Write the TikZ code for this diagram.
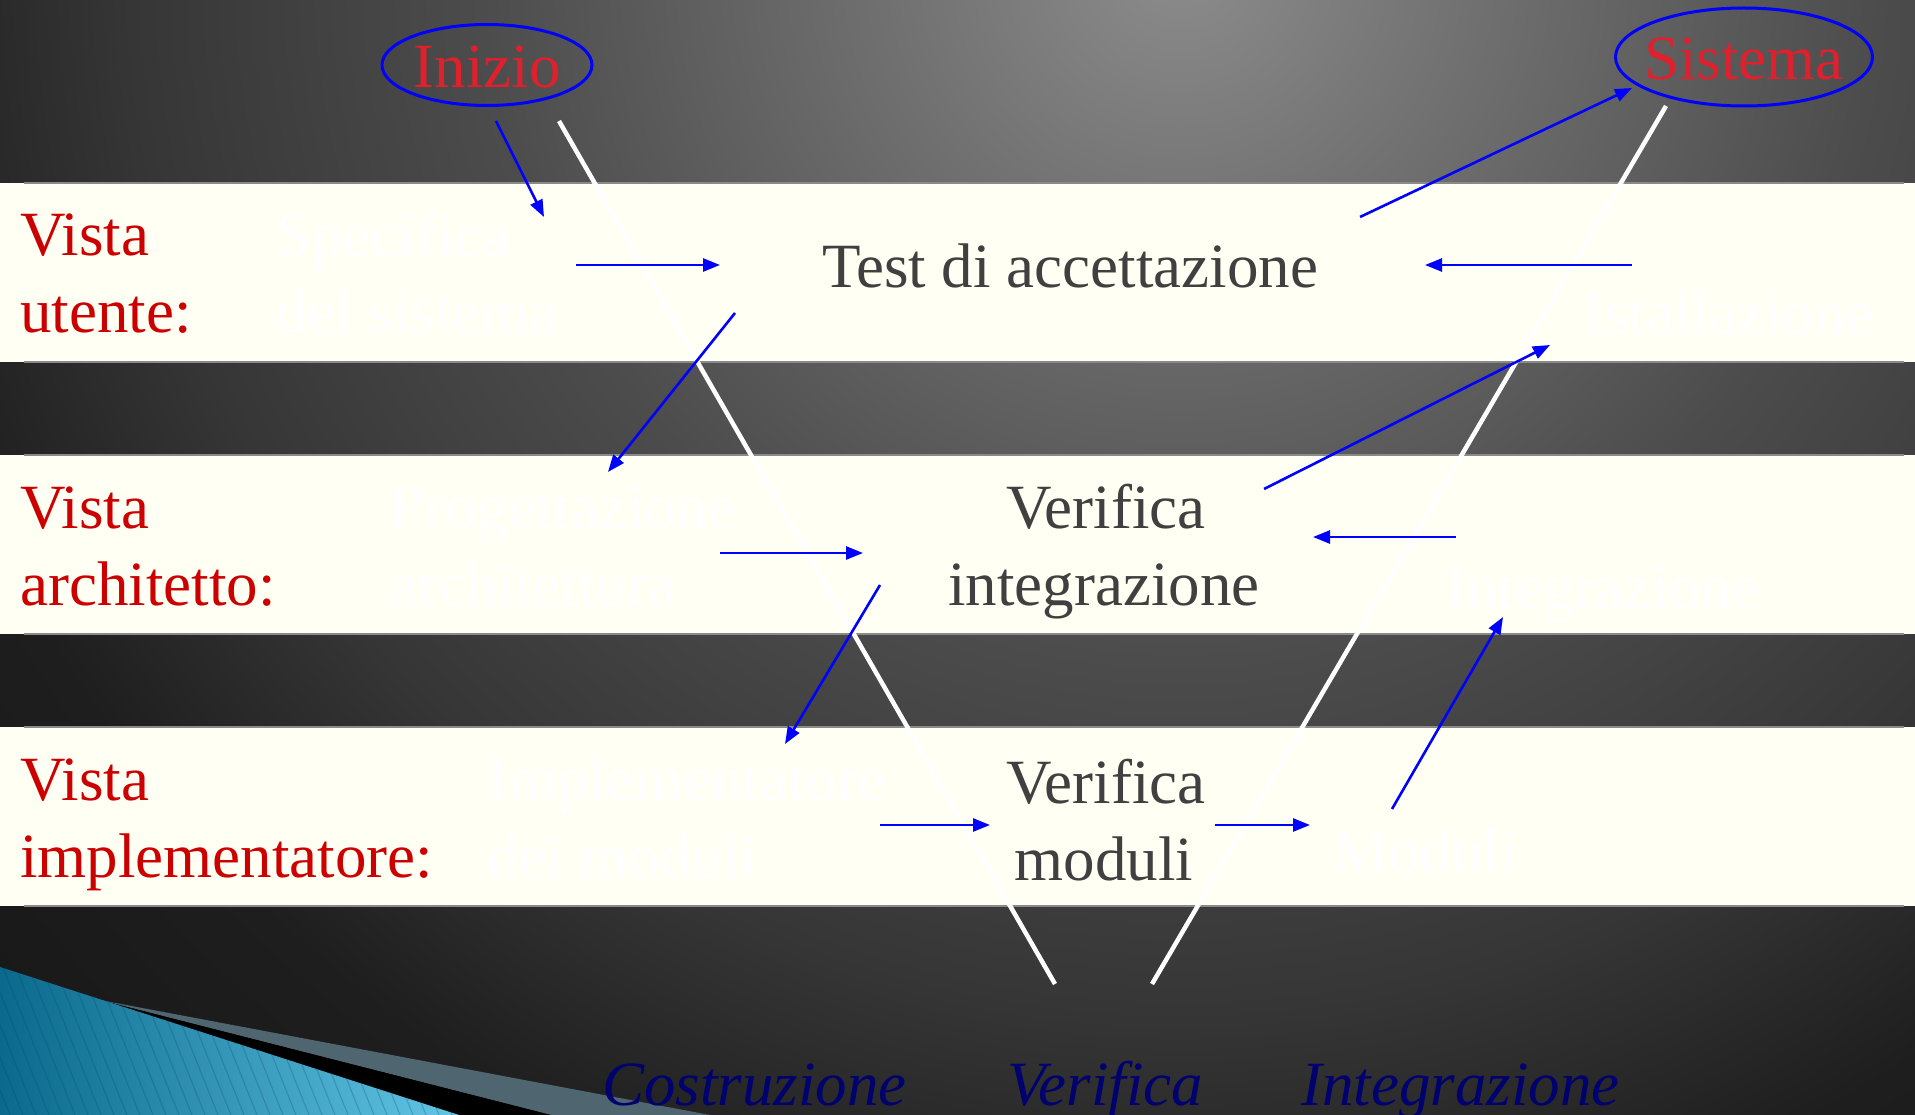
\documentclass[tikz,border=0pt]{standalone}
\usepackage{fontspec}
\setmainfont{Liberation Serif}
\usetikzlibrary{shapes.geometric,arrows.meta}
\definecolor{bandfill}{HTML}{FFFFF3}
\definecolor{bandedge}{HTML}{8A8A8A}
\definecolor{vistared}{HTML}{CC0000}
\definecolor{ellred}{HTML}{E0202C}
\definecolor{darktext}{HTML}{404040}
\definecolor{navytext}{HTML}{00006E}
\definecolor{arrblue}{HTML}{0000FF}
\definecolor{wedgegrey}{HTML}{4F6570}
\definecolor{tealL}{RGB}{10,105,140}
\definecolor{tealR}{RGB}{98,198,230}
\definecolor{stripecol}{RGB}{5,70,100}
\definecolor{bgA}{HTML}{8C8C8C}
\definecolor{bgB}{HTML}{707070}
\definecolor{bgC}{HTML}{4C4C4C}
\definecolor{bgD}{HTML}{363636}
\definecolor{bgE}{HTML}{1E1E1E}
\definecolor{bgF}{HTML}{101010}
\pgfdeclareradialshading{bgshade}{\pgfpoint{0bp}{0bp}}{color(0bp)=(bgA); color(3.75bp)=(bgB); color(8.75bp)=(bgC); color(13.125bp)=(bgD); color(16.5bp)=(bgE); color(25bp)=(bgF); color(50bp)=(bgF)}
\begin{document}
\begin{tikzpicture}[x=1pt,y=-1pt,
  bigfont/.style={font=\fontsize{63pt}{76pt}\selectfont},
  lbl/.style={bigfont, inner sep=0pt, anchor=base west},
  vista/.style={lbl, text=vistared},
  ghost/.style={lbl, text=white},
  center lbl/.style={bigfont, inner sep=0pt, anchor=base, text=darktext},
  phase/.style={font=\fontsize{63pt}{76pt}\selectfont\itshape, inner sep=0pt, anchor=base west, text=navytext},
  endtext/.style={bigfont, inner sep=0pt, anchor=base, text=ellred},
  endring/.style={draw=arrblue, line width=3pt},
  arr/.style={draw=arrblue, line width=2.6pt, -{Triangle[length=17pt,width=13pt]}},
  vline/.style={draw=white, line width=4.5pt},
  bandline/.style={draw=bandedge, line width=1.5pt}]
\useasboundingbox (0,0) rectangle (1915,1115);
% background
\begin{scope}
\clip (0,0) rectangle (1915,1115);
\shade[shading=bgshade] (1180,-40) circle (2000);
\end{scope}
% bands
\foreach \t/\b in {183/362, 455/634, 727/906} {
  \fill[bandfill] (0,\t) rectangle (1915,\b);
  \draw[bandline] (24,\t) -- (1904,\t);
  \draw[bandline] (24,\b) -- (1904,\b);
}
% bottom-left decoration
\fill[wedgegrey] (100,1000) -- (710,1115) -- (551,1115) -- cycle;
\fill[black] (100,1000) -- (551,1115) -- (459,1115) -- cycle;
\begin{scope}
\clip (0,967) -- (459,1115) -- (0,1115) -- cycle;
\shade[left color=tealL, right color=tealR] (0,960) rectangle (460,1115);
\foreach \i in {-20,...,40} {
  \draw[stripecol, opacity=0.25, line width=1.2pt] (\i*13,960) -- (\i*13+62,1115);
}
\end{scope}
% V lines
\coordinate (vLtop) at (559,121);
\coordinate (vLbot) at (1055,984);
\coordinate (vRtop) at (1666,106);
\coordinate (vRbot) at (1152,984);
\draw[vline] (vLtop) -- (vLbot);
\draw[vline] (vRtop) -- (vRbot);
% red labels
\node[vista] (v1a) at (20,256) {Vista};
\node[vista] (v1b) at (20,333) {utente:};
\node[vista] (v2a) at (20,528) {Vista};
\node[vista] (v2b) at (20,605) {architetto:};
\node[vista] (v3a) at (20,800) {Vista};
\node[vista] (v3b) at (20,877) {implementatore:};
% white (ghost) labels
\node[ghost] (spa) at (276,257) {Specifica};
\node[ghost] (spb) at (276,333) {del sistema};
\node[ghost] (pra) at (389,528) {Progettazione};
\node[ghost] (prb) at (389,605) {architettura};
\node[ghost] (ima) at (487,800) {Implementatore};
\node[ghost] (imb) at (487,877) {dei moduli};
\node[ghost] (ist) at (1583,335) {Istallazione};
\node[ghost] (intg) at (1445,608) {Integrazione};
\node[ghost] (mod) at (1332,872) {Moduli};
% dark labels
\node[center lbl] (test) at (1070,288) {Test di accettazione};
\node[center lbl] (via) at (1106,528) {Verifica};
\node[center lbl] (vib) at (1104,605) {integrazione};
\node[center lbl] (vma) at (1106,803) {Verifica};
\node[center lbl] (vmb) at (1104,880) {moduli};
% bottom phase labels
\node[phase] (costr) at (602,1105) {Costruzione};
\node[phase] (verif) at (1007,1105) {Verifica};
\node[phase] (integ) at (1301,1105) {Integrazione};
% ellipses
\node[endtext] (inizio) at (487,88) {Inizio};
\node[endtext] (sistema) at (1744,80) {Sistema};
\draw[endring] ([yshift=23pt]inizio.base) ellipse [x radius=105, y radius=40.5];
\draw[endring] ([yshift=23pt]sistema.base) ellipse [x radius=128.5, y radius=49];
% arrow endpoints
\coordinate (a1s) at (496,121);  \coordinate (a1e) at (544,217);
\coordinate (a2s) at (576,265);  \coordinate (a2e) at (720,265);
\coordinate (a3s) at (735,313);  \coordinate (a3e) at (608,472);
\coordinate (a4s) at (720,553);  \coordinate (a4e) at (863,553);
\coordinate (a5s) at (880,585);  \coordinate (a5e) at (785,744);
\coordinate (a6s) at (880,825);  \coordinate (a6e) at (990,825);
\coordinate (a7s) at (1215,825); \coordinate (a7e) at (1310,825);
\coordinate (a8s) at (1392,809); \coordinate (a8e) at (1503,617);
\coordinate (a9s) at (1456,537); \coordinate (a9e) at (1313,537);
\coordinate (a10s) at (1264,489); \coordinate (a10e) at (1550,345);
\coordinate (a11s) at (1632,265); \coordinate (a11e) at (1425,265);
\coordinate (a12s) at (1360,217); \coordinate (a12e) at (1632,88);
\foreach \k in {1,...,12} { \draw[arr] (a\k s) -- (a\k e); }
\end{tikzpicture}
\end{document}
